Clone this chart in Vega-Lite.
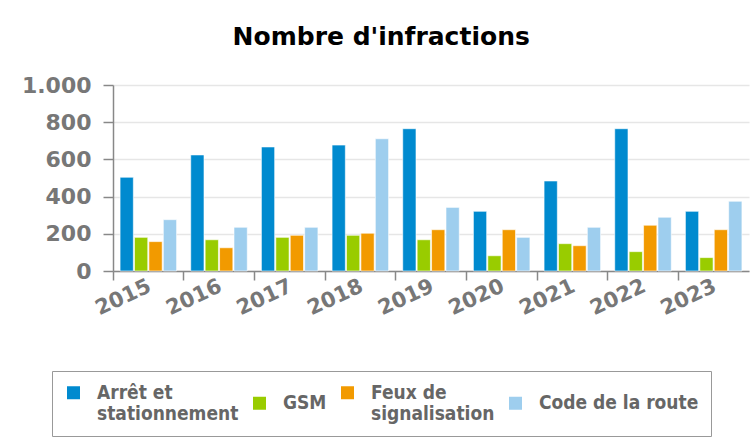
{
  "$schema": "https://vega.github.io/schema/vega-lite/v6.json",
  "width": 636,
  "height": 186,
  "autosize": {"type": "none"},
  "padding": {"left": 113, "top": 85, "right": 2, "bottom": 175},
  "background": "white",
  "config": {
    "locale": {"number": {"decimal": ",", "thousands": ".", "grouping": [3], "currency": ["", " €"]}},
    "view": {"stroke": null}
  },
  "title": {
    "text": "Nombre d'infractions",
    "font": "DejaVu Sans",
    "fontSize": 25,
    "fontWeight": "bold",
    "color": "#000000",
    "anchor": "middle",
    "frame": "bounds",
    "offset": 24,
    "dx": -4
  },
  "data": {
    "values": [
      {"annee": "2015", "type": "Arrêt et stationnement", "n": 504},
      {"annee": "2015", "type": "GSM", "n": 181},
      {"annee": "2015", "type": "Feux de signalisation", "n": 158},
      {"annee": "2015", "type": "Code de la route", "n": 276},
      {"annee": "2016", "type": "Arrêt et stationnement", "n": 624},
      {"annee": "2016", "type": "GSM", "n": 168},
      {"annee": "2016", "type": "Feux de signalisation", "n": 125},
      {"annee": "2016", "type": "Code de la route", "n": 235},
      {"annee": "2017", "type": "Arrêt et stationnement", "n": 667},
      {"annee": "2017", "type": "GSM", "n": 181},
      {"annee": "2017", "type": "Feux de signalisation", "n": 192},
      {"annee": "2017", "type": "Code de la route", "n": 235},
      {"annee": "2018", "type": "Arrêt et stationnement", "n": 677},
      {"annee": "2018", "type": "GSM", "n": 192},
      {"annee": "2018", "type": "Feux de signalisation", "n": 203},
      {"annee": "2018", "type": "Code de la route", "n": 711},
      {"annee": "2019", "type": "Arrêt et stationnement", "n": 765},
      {"annee": "2019", "type": "GSM", "n": 168},
      {"annee": "2019", "type": "Feux de signalisation", "n": 222},
      {"annee": "2019", "type": "Code de la route", "n": 342},
      {"annee": "2020", "type": "Arrêt et stationnement", "n": 321},
      {"annee": "2020", "type": "GSM", "n": 82},
      {"annee": "2020", "type": "Feux de signalisation", "n": 222},
      {"annee": "2020", "type": "Code de la route", "n": 181},
      {"annee": "2021", "type": "Arrêt et stationnement", "n": 484},
      {"annee": "2021", "type": "GSM", "n": 147},
      {"annee": "2021", "type": "Feux de signalisation", "n": 136},
      {"annee": "2021", "type": "Code de la route", "n": 235},
      {"annee": "2022", "type": "Arrêt et stationnement", "n": 765},
      {"annee": "2022", "type": "GSM", "n": 104},
      {"annee": "2022", "type": "Feux de signalisation", "n": 246},
      {"annee": "2022", "type": "Code de la route", "n": 289},
      {"annee": "2023", "type": "Arrêt et stationnement", "n": 321},
      {"annee": "2023", "type": "GSM", "n": 72},
      {"annee": "2023", "type": "Feux de signalisation", "n": 222},
      {"annee": "2023", "type": "Code de la route", "n": 375}
    ]
  },
  "mark": {"type": "bar", "stroke": "#ffffff", "strokeWidth": 1, "strokeOpacity": 0.6},
  "encoding": {
    "x": {
      "field": "annee",
      "type": "nominal",
      "sort": null,
      "scale": {"paddingInner": 0, "paddingOuter": 0},
      "axis": {
        "title": null,
        "bandPosition": 0,
        "labelAngle": -25,
        "labelAlign": "right",
        "labelBaseline": "top",
        "labelOffset": -3,
        "labelPadding": -5,
        "labelFont": "DejaVu Sans",
        "labelFontSize": 21,
        "labelFontWeight": "bold",
        "labelColor": "#777777",
        "domainColor": "#888888",
        "domainWidth": 1.5,
        "tickColor": "#888888",
        "tickSize": 9,
        "tickWidth": 1.5,
        "grid": false
      }
    },
    "xOffset": {
      "field": "type",
      "type": "nominal",
      "sort": ["Arrêt et stationnement", "GSM", "Feux de signalisation", "Code de la route"],
      "scale": {"paddingInner": 0.08, "paddingOuter": 0.49}
    },
    "y": {
      "field": "n",
      "type": "quantitative",
      "scale": {"domain": [0, 1000]},
      "axis": {
        "title": null,
        "values": [0, 200, 400, 600, 800, 1000],
        "format": ",d",
        "labelFont": "DejaVu Sans",
        "labelFontSize": 22,
        "labelFontWeight": "bold",
        "labelColor": "#777777",
        "labelPadding": 12,
        "domainColor": "#888888",
        "domainWidth": 1.5,
        "tickColor": "#888888",
        "tickSize": 10,
        "tickWidth": 1.5,
        "gridColor": "#e6e6e6",
        "gridWidth": 1.5
      }
    },
    "color": {
      "field": "type",
      "type": "nominal",
      "scale": {
        "domain": ["Arrêt et stationnement", "GSM", "Feux de signalisation", "Code de la route"],
        "range": ["#008ACF", "#99CC00", "#F29A00", "#9ECEEE"]
      },
      "legend": {
        "title": null,
        "orient": "none",
        "direction": "horizontal",
        "columns": 4,
        "legendX": -61,
        "legendY": 286,
        "strokeColor": "#999999",
        "padding": 12,
        "symbolType": "square",
        "symbolSize": 169,
        "symbolStrokeWidth": 0,
        "symbolOpacity": 1,
        "labelFont": "DejaVu Sans Condensed",
        "labelFontSize": 19,
        "labelFontWeight": "bold",
        "labelColor": "#666666",
        "labelLimit": 300,
        "labelOffset": 14,
        "columnPadding": 11,
        "labelExpr": "datum.label == 'Arrêt et stationnement' ? ['Arrêt et', 'stationnement'] : datum.label == 'Feux de signalisation' ? ['Feux de', 'signalisation'] : datum.label"
      }
    }
  }
}
